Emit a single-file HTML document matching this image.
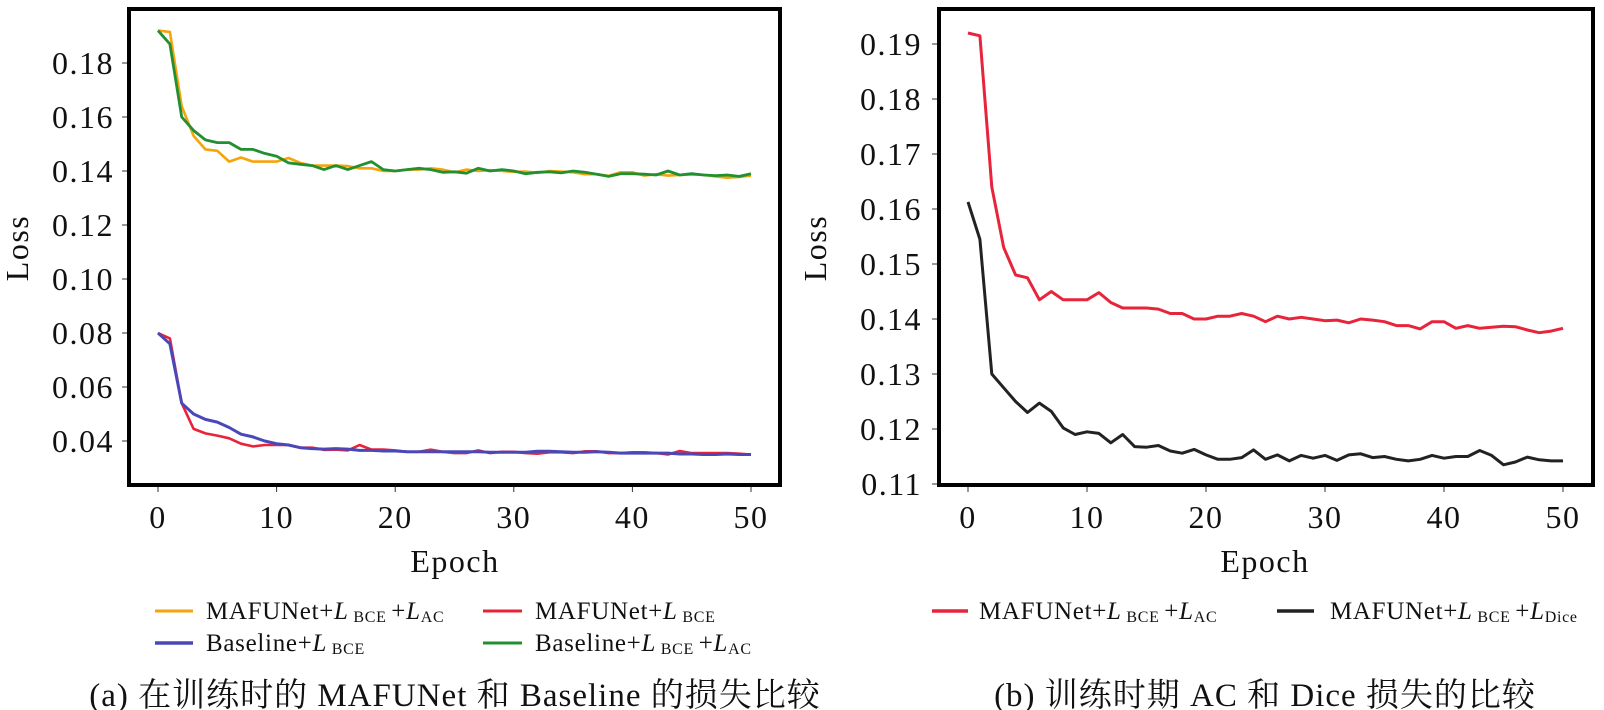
<!DOCTYPE html>
<html><head><meta charset="utf-8"><style>
body{margin:0;background:#fff}
svg{display:block}
text{font-family:"Liberation Serif","Noto Serif CJK SC",serif;fill:#111}
.t{font-size:32px;letter-spacing:1.5px}
.lg{font-size:25px;letter-spacing:0.7px}
.s{font-size:16px}
.c{font-size:33px;letter-spacing:1px}
</style></head><body>
<svg id="s" width="1604" height="710" xmlns="http://www.w3.org/2000/svg">
<rect x="129" y="9" width="651" height="476" fill="none" stroke="#000" stroke-width="4"/>
<rect x="939" y="9" width="654" height="476" fill="none" stroke="#000" stroke-width="4"/>
<g id="g"></g>
<text class="t" x="28" y="248" text-anchor="middle" transform="rotate(-90 28 248)">Loss</text>
<text class="t" x="826" y="248" text-anchor="middle" transform="rotate(-90 826 248)">Loss</text>
<text class="t" x="455" y="572" text-anchor="middle">Epoch</text>
<text class="t" x="1265" y="572" text-anchor="middle">Epoch</text>
<line x1="155" y1="611" x2="193" y2="611" stroke="#f5a40c" stroke-width="3"/>
<text class="lg" x="206" y="619">MAFUNet+<tspan font-style="italic">L</tspan><tspan class="s" dy="3"> BCE </tspan><tspan dy="-3">+</tspan><tspan font-style="italic">L</tspan><tspan class="s" dy="3">AC</tspan></text>
<line x1="483" y1="611" x2="522" y2="611" stroke="#e8243a" stroke-width="3"/>
<text class="lg" x="535" y="619">MAFUNet+<tspan font-style="italic">L</tspan><tspan class="s" dy="3"> BCE</tspan></text>
<line x1="155" y1="643" x2="193" y2="643" stroke="#4a48b8" stroke-width="3.5"/>
<text class="lg" x="206" y="651">Baseline+<tspan font-style="italic">L</tspan><tspan class="s" dy="3"> BCE</tspan></text>
<line x1="483" y1="643" x2="522" y2="643" stroke="#229030" stroke-width="3"/>
<text class="lg" x="535" y="651">Baseline+<tspan font-style="italic">L</tspan><tspan class="s" dy="3"> BCE </tspan><tspan dy="-3">+</tspan><tspan font-style="italic">L</tspan><tspan class="s" dy="3">AC</tspan></text>
<line x1="932" y1="611" x2="968" y2="611" stroke="#e8243a" stroke-width="3.5"/>
<text class="lg" x="979" y="619">MAFUNet+<tspan font-style="italic">L</tspan><tspan class="s" dy="3"> BCE </tspan><tspan dy="-3">+</tspan><tspan font-style="italic">L</tspan><tspan class="s" dy="3">AC</tspan></text>
<line x1="1277" y1="611" x2="1314" y2="611" stroke="#222" stroke-width="3.5"/>
<text class="lg" x="1330" y="619">MAFUNet+<tspan font-style="italic">L</tspan><tspan class="s" dy="3"> BCE </tspan><tspan dy="-3">+</tspan><tspan font-style="italic">L</tspan><tspan class="s" dy="3">Dice</tspan></text>
<text class="c" x="455" y="706" text-anchor="middle">(a) 在训练时的 MAFUNet 和 Baseline 的损失比较</text>
<text class="c" x="1265" y="706" text-anchor="middle">(b) 训练时期 AC 和 Dice 损失的比较</text>
</svg>
<script>
var g=document.getElementById('g'),NS='http://www.w3.org/2000/svg';
function el(n,a,t){var e=document.createElementNS(NS,n);for(var k in a)e.setAttribute(k,a[k]);if(t)e.textContent=t;g.appendChild(e);}
var O=[0.192,0.1915,0.164,0.153,0.148,0.1475,0.1435,0.145,0.1435,0.1435,0.1435,0.1448,0.143,0.142,0.142,0.142,0.1418,0.141,0.141,0.140,0.140,0.1405,0.1405,0.141,0.1405,0.1395,0.1405,0.140,0.1403,0.140,0.1397,0.1398,0.1393,0.14,0.1398,0.1395,0.1388,0.1388,0.1382,0.1395,0.1395,0.1383,0.1388,0.1383,0.1385,0.1387,0.1386,0.138,0.1375,0.1378,0.1383];
var G=[0.192,0.187,0.16,0.155,0.1515,0.1505,0.1505,0.148,0.148,0.1465,0.1455,0.143,0.1425,0.142,0.1405,0.142,0.1405,0.142,0.1435,0.1405,0.140,0.1405,0.141,0.1405,0.1395,0.1397,0.1392,0.141,0.140,0.1405,0.140,0.139,0.1395,0.1397,0.1393,0.14,0.1395,0.1388,0.138,0.139,0.139,0.1388,0.1385,0.14,0.1385,0.139,0.1385,0.1383,0.1385,0.138,0.139];
var R=[0.080,0.078,0.054,0.0445,0.0428,0.042,0.041,0.039,0.038,0.0385,0.0385,0.0385,0.0375,0.0375,0.0367,0.0368,0.0365,0.0385,0.0368,0.0368,0.0365,0.036,0.036,0.0368,0.036,0.0355,0.0355,0.0365,0.0355,0.036,0.036,0.0355,0.0353,0.0358,0.0358,0.0355,0.0362,0.0362,0.0355,0.0355,0.0358,0.0358,0.0355,0.035,0.0363,0.0355,0.0355,0.0355,0.0355,0.0353,0.035];
var B=[0.080,0.076,0.054,0.050,0.048,0.047,0.045,0.0425,0.0415,0.040,0.039,0.0385,0.0375,0.0372,0.037,0.0372,0.037,0.0365,0.0365,0.0363,0.0363,0.036,0.036,0.036,0.036,0.036,0.036,0.036,0.0358,0.0358,0.0358,0.0358,0.0362,0.0362,0.036,0.0358,0.0358,0.036,0.0358,0.0355,0.0355,0.0355,0.0355,0.0355,0.0352,0.0352,0.035,0.035,0.0352,0.035,0.035];
var K=[0.1613,0.1545,0.13,0.1275,0.125,0.123,0.1247,0.1232,0.1202,0.119,0.1195,0.1192,0.1175,0.119,0.1168,0.1167,0.117,0.116,0.1156,0.1163,0.1153,0.1145,0.1145,0.1148,0.1162,0.1145,0.1153,0.1142,0.1152,0.1147,0.1152,0.1143,0.1153,0.1155,0.1148,0.115,0.1145,0.1142,0.1145,0.1152,0.1147,0.115,0.115,0.1161,0.1152,0.1135,0.114,0.1149,0.1144,0.1142,0.1142];
function lx(i){return 158+i*11.86} function ly(v){return 63+(0.18-v)/0.02*54}
function rx(i){return 968+i*11.9} function ry(v){return 484-(v-0.11)*5500}
function pl(d,fx,fy,c,w){el('polyline',{points:d.map(function(v,i){return fx(i).toFixed(1)+','+fy(v).toFixed(1)}).join(' '),fill:'none',stroke:c,'stroke-width':w,'stroke-linejoin':'round'});}
pl(O,lx,ly,'#f5a40c',2.6);pl(G,lx,ly,'#229030',2.8);pl(R,lx,ly,'#e8243a',2.6);pl(B,lx,ly,'#4a48b8',3);
pl(O,rx,ry,'#e8243a',3);pl(K,rx,ry,'#222',3);
for(var i=0;i<=5;i++){var x=lx(i*10);el('line',{x1:x,y1:487,x2:x,y2:492,stroke:'#333'});el('text',{x:x,y:528,'text-anchor':'middle','class':'t'},String(i*10));
x=rx(i*10);el('line',{x1:x,y1:487,x2:x,y2:492,stroke:'#333'});el('text',{x:x,y:528,'text-anchor':'middle','class':'t'},String(i*10));}
for(var v=4;v<=18;v+=2){var y=ly(v/100);el('line',{x1:122,y1:y,x2:127,y2:y,stroke:'#333'});el('text',{x:114,y:y+11,'text-anchor':'end','class':'t'},(v/100).toFixed(2));}
for(var v=11;v<=19;v++){var y=ry(v/100);el('line',{x1:932,y1:y,x2:937,y2:y,stroke:'#333'});el('text',{x:922,y:y+11,'text-anchor':'end','class':'t'},(v/100).toFixed(2));}
</script>
</body></html>
